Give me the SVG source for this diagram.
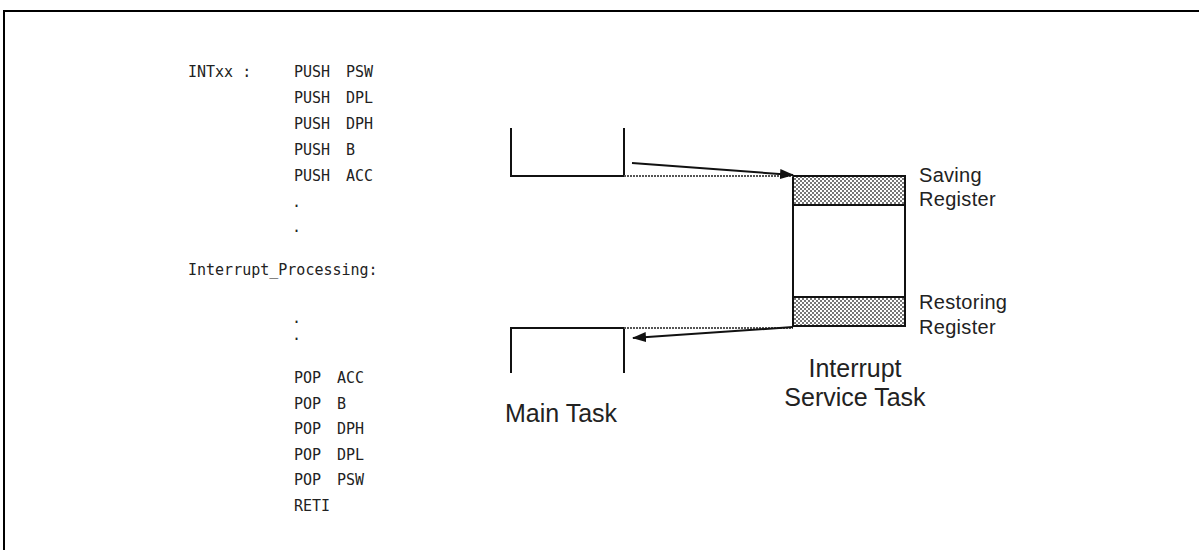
<svg xmlns="http://www.w3.org/2000/svg" width="1200" height="550" viewBox="0 0 1200 550">
  <style>
    .code { font-family: "DejaVu Sans Mono", "Liberation Mono", monospace; font-size: 15px; fill: #222; }
    .lbl { font-family: "Liberation Sans", Arial, sans-serif; font-size: 20px; letter-spacing: 0.3px; fill: #222; }
    .big { font-family: "Liberation Sans", Arial, sans-serif; font-size: 25px; fill: #222; }
    .bracket { fill: none; stroke: #111; stroke-width: 2; }
    .stack { stroke: #111; stroke-width: 2; }
    .dotted { fill: none; stroke: #555; stroke-width: 2; stroke-dasharray: 2 1; }
    .arrow { fill: none; stroke: #111; stroke-width: 2; marker-end: url(#head); }
  </style>
  <defs>
    <pattern id="checker" width="4" height="4" patternUnits="userSpaceOnUse">
      <rect width="4" height="4" fill="#fff"/>
      <rect width="2" height="2" fill="#777"/>
      <rect x="2" y="2" width="2" height="2" fill="#777"/>
    </pattern>
    <marker id="head" markerWidth="14" markerHeight="10" refX="13" refY="5" orient="auto" markerUnits="userSpaceOnUse">
      <path d="M0,0 L14,5 L0,10 Z" fill="#111"/>
    </marker>
  </defs>

  <rect width="1200" height="550" fill="#fff"/>
  <!-- frame -->
  <path d="M4,550 V11 H1199" fill="none" stroke="#000" stroke-width="2"/>

  <!-- interrupt routine listing -->
  <g id="listing" class="code">
    <text x="188" y="77">INTxx :</text>
    <text x="294" y="77">PUSH</text><text x="346" y="77">PSW</text>
    <text x="294" y="103">PUSH</text><text x="346" y="103">DPL</text>
    <text x="294" y="129">PUSH</text><text x="346" y="129">DPH</text>
    <text x="294" y="155">PUSH</text><text x="346" y="155">B</text>
    <text x="294" y="181">PUSH</text><text x="346" y="181">ACC</text>
    <text x="292" y="207">.</text>
    <text x="292" y="232">.</text>
    <text x="188" y="275">Interrupt_Processing:</text>
    <text x="292" y="323">.</text>
    <text x="292" y="340">.</text>
    <text x="294" y="383">POP</text><text x="337" y="383">ACC</text>
    <text x="294" y="409">POP</text><text x="337" y="409">B</text>
    <text x="294" y="434">POP</text><text x="337" y="434">DPH</text>
    <text x="294" y="460">POP</text><text x="337" y="460">DPL</text>
    <text x="294" y="485">POP</text><text x="337" y="485">PSW</text>
    <text x="294" y="511">RETI</text>
  </g>

  <!-- main task -->
  <g id="main-task">
    <path class="bracket" d="M511,128 V176 H624 V128"/>
    <path class="bracket" d="M511,373 V328 H624 V373"/>
    <text class="big" x="505" y="422">Main Task</text>
  </g>

  <!-- interrupt service task stack -->
  <g id="isr-task">
    <rect x="793" y="176" width="112" height="29" fill="url(#checker)"/>
    <rect x="793" y="297" width="112" height="29" fill="url(#checker)"/>
    <rect class="stack" x="793" y="176" width="112" height="150" fill="none"/>
    <line class="stack" x1="793" y1="205" x2="905" y2="205"/>
    <line class="stack" x1="793" y1="297" x2="905" y2="297"/>
    <text class="big" x="855" y="377" text-anchor="middle">Interrupt</text>
    <text class="big" x="855" y="406" text-anchor="middle">Service Task</text>
  </g>

  <g id="saving-label" class="lbl">
    <text x="919" y="182">Saving</text>
    <text x="919" y="206">Register</text>
  </g>
  <g id="restoring-label" class="lbl">
    <text x="919" y="309">Restoring</text>
    <text x="919" y="334">Register</text>
  </g>

  <!-- connectors -->
  <g id="connectors">
    <line class="dotted" x1="624" y1="176" x2="793" y2="176"/>
    <line class="dotted" x1="624" y1="328" x2="793" y2="328"/>
    <line class="arrow" x1="632" y1="163" x2="793" y2="175"/>
    <line class="arrow" x1="793" y1="327" x2="633" y2="338"/>
  </g>
</svg>
